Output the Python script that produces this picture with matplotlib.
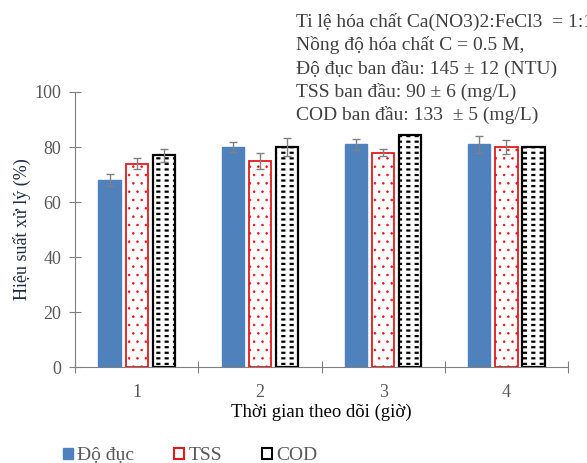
import numpy as np
import matplotlib
matplotlib.use('Agg')
import matplotlib.pyplot as plt
from matplotlib.patches import Patch

# data
times = ['1', '2', '3', '4']
do_duc = [68, 80, 81, 81]
do_duc_err = [2.3, 1.9, 2.0, 3.0]
tss = [74, 75, 78, 80]
tss_err = [2.0, 2.9, 1.2, 2.5]
cod = [77, 80, 84.5, 80]
cod_err = [2.4, 3.2, 0, 0]

info_lines = ['Ti lệ hóa chất Ca(NO3)2:FeCl3  = 1:1',
              'Nồng độ hóa chất C = 0.5 M,',
              'Độ đục ban đầu: 145 ± 12 (NTU)',
              'TSS ban đầu: 90 ± 6 (mg/L)',
              'COD ban đầu: 133  ± 5 (mg/L)']

plt.rcParams['font.family'] = ['Liberation Serif', 'DejaVu Serif']

fig = plt.figure(figsize=(5.87, 4.63), dpi=100)
ax = fig.add_axes([0.1278, 0.2073, 0.84, 0.594])

x = np.arange(len(times))
w = 0.18
sp = 0.22
ecol = '#808080'
tcol = '#595959'

ax.bar(x - sp, do_duc, w, color='#4F81BD', edgecolor='#4F81BD',
       yerr=do_duc_err, error_kw=dict(ecolor=ecol, capsize=3, lw=1))

with plt.rc_context({'hatch.linewidth': 0.6}):
    ax.bar(x, tss, w, color='white', edgecolor='#E31A1C', hatch='..', lw=1.3,
           yerr=tss_err, error_kw=dict(ecolor=ecol, capsize=3, lw=1))

# COD: horizontal lines, broken into dashes by white vertical hatch
with plt.rc_context({'hatch.linewidth': 1.6}):
    ax.bar(x + sp, cod, w, color='white', edgecolor='black', hatch='---', lw=0)
with plt.rc_context({'hatch.linewidth': 3.0}):
    ax.bar(x + sp, cod, w, color='none', edgecolor='white', hatch='||', lw=0)
ax.bar(x + sp, cod, w, color='none', edgecolor='black', lw=1.6)
ax.errorbar(x[:2] + sp, cod[:2], yerr=cod_err[:2], fmt='none', ecolor=ecol,
            capsize=3, lw=1)

ax.set_xlim(-0.5, len(times) - 0.5)
ax.set_ylim(0, 100)
ax.set_yticks(range(0, 101, 20))
ax.set_xticks(np.arange(-0.5, len(times), 1.0))
ax.set_xticklabels([])
ax.set_xticks(x, minor=True)
ax.set_xticklabels(times, minor=True)
ax.tick_params(axis='x', which='major', direction='inout', length=9, color=ecol)
ax.tick_params(axis='x', which='minor', length=0, pad=12, labelsize=13,
               labelcolor=tcol)
ax.tick_params(axis='y', direction='inout', length=8, color=ecol, labelsize=13,
               pad=6, labelcolor=tcol)
for s in ['top', 'right']:
    ax.spines[s].set_visible(False)
for s in ['left', 'bottom']:
    ax.spines[s].set_color(ecol)

ax.set_ylabel('Hiệu suất xử lý (%)', fontsize=13, labelpad=2, color='#1F2A44')
ax.set_xlabel('Thời gian theo dõi (giờ)', fontsize=13.5, labelpad=2)

handles = [Patch(facecolor='#4F81BD', edgecolor='#4F81BD'),
           Patch(facecolor='white', edgecolor='#E31A1C', lw=1.5),
           Patch(facecolor='white', edgecolor='black', lw=1.5)]
leg = fig.legend(handles, ['Độ đục', 'TSS', 'COD'], loc='lower left',
                 bbox_to_anchor=(0.078, -0.041), ncol=3, frameon=False,
                 fontsize=14, handlelength=0.52, handleheight=0.52,
                 handletextpad=0.2, columnspacing=2.05)
for t in leg.get_texts():
    t.set_color(tcol)

fig.text(0.504, 0.972, '\n'.join(info_lines), fontsize=14, va='top', ha='left',
         linespacing=1.38, color='#404040')

fig.savefig('out.png', dpi=100)
